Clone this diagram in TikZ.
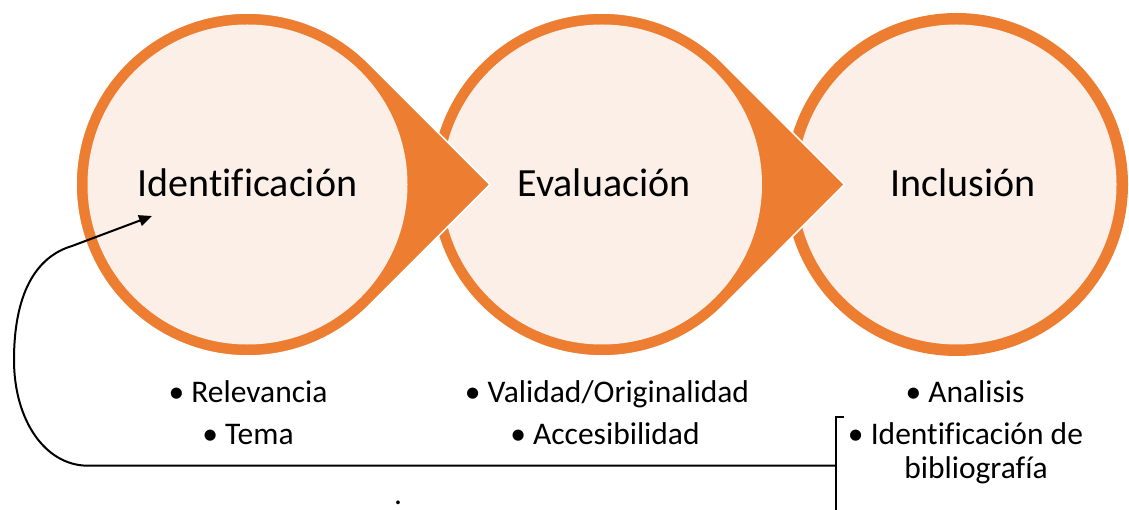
\documentclass[tikz,border=0pt]{standalone}
\usepackage{fontspec}
\setmainfont{Carlito}[Ligatures=NoCommon]
\usetikzlibrary{arrows.meta,calc}
\definecolor{orng}{HTML}{ED7D31}
\definecolor{pnk}{HTML}{FCEFE8}
\begin{document}
\begin{tikzpicture}[x=1pt,y=1pt,
  drop/.style={fill=orng,draw=white,line width=1.6pt},
  innerdisk/.style={fill=pnk},
  titletext/.style={anchor=base,inner sep=0pt,font=\fontsize{40}{48}\selectfont},
  itemtext/.style={anchor=base,inner sep=0pt,font=\fontsize{31.5}{38}\selectfont},
  conn/.style={draw=black,line width=2pt},
]
\useasboundingbox (0,0) rectangle (1129,-510);
\coordinate (c1) at (247.5,-184.5);
\coordinate (c2) at (602,-184.5);
\coordinate (c3) at (956.5,-184.5);
% circle 3
\fill[orng] (c3) circle (171.5);
\fill[innerdisk] (c3) circle (160);
% teardrop 2
\path[drop] (c2) ++(45:171.5) arc[start angle=45,end angle=315,radius=171.5] -- ($(c2)+(242.5,0)$) -- cycle;
\fill[innerdisk] (c2) circle (160);
% teardrop 1
\path[drop] (c1) ++(45:171.5) arc[start angle=45,end angle=315,radius=171.5] -- ($(c1)+(242.5,0)$) -- cycle;
\fill[innerdisk] (c1) circle (160);
% titles
\node[titletext] (t1) at (247.5,-197) {Identificación};
\node[titletext] (t2) at (604,-197) {Evaluación};
\node[titletext] (t3) at (963,-197) {Inclusión};
% items
\node[itemtext] (r1) at (248,-402) {• Relevancia};
\node[itemtext] (r2) at (248,-444) {• Tema};
\node[itemtext] (v1) at (607,-402) {• Validad/Originalidad};
\node[itemtext] (v2) at (605,-444) {• Accesibilidad};
\node[itemtext] (a1) at (965,-402) {• Analisis};
\node[itemtext] (a2) at (965.5,-444) {• Identificación de};
\node[itemtext] (a3) at (976,-478) {bibliografía};
\node[itemtext] (dot) at (398,-504) {.};
% connectors
\coordinate (bt) at (844,-417);
\coordinate (btop) at (836,-417);
\coordinate (bbot) at (836,-510);
\coordinate (bj) at (836,-465.7);
\coordinate (hl) at (88,-465.7);
\coordinate (ah) at (152,-216);
\draw[conn] (bt) -- (btop) -- (bbot);
\draw[conn,-{Triangle[length=13pt,width=11pt]}] (bj) -- (hl)
  .. controls (45,-465.7) and (14,-420) .. (14,-360)
  .. controls (14,-295) and (35,-257) .. (72,-246) -- (ah);
\end{tikzpicture}
\end{document}
